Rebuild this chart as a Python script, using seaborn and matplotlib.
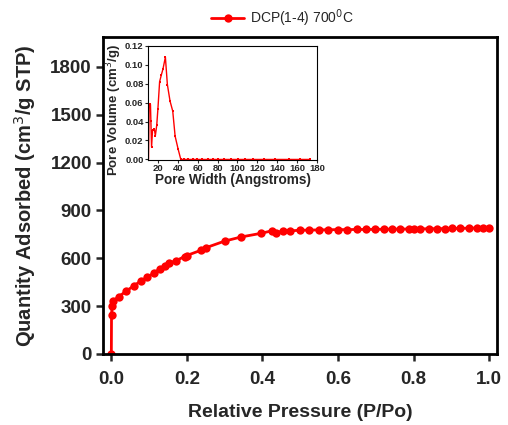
import numpy as np
import pandas as pd
import seaborn as sns
import matplotlib
matplotlib.use("Agg")
import matplotlib.pyplot as plt

sns.set_style("ticks")
plt.rcParams["font.family"] = ["Liberation Sans", "DejaVu Sans"]

# N2 adsorption isotherm
rel_pressure = [0.0, 0.0005, 0.002, 0.005, 0.019, 0.040, 0.059, 0.079, 0.094, 0.112,
                0.128, 0.141, 0.153, 0.172, 0.194, 0.199, 0.238, 0.250, 0.300, 0.344,
                0.397, 0.424, 0.437, 0.455, 0.472, 0.499, 0.524, 0.549, 0.573, 0.600,
                0.624, 0.651, 0.675, 0.699, 0.721, 0.743, 0.765, 0.787, 0.800, 0.818,
                0.840, 0.862, 0.884, 0.902, 0.924, 0.946, 0.968, 0.984, 1.0]
quantity = [0, 243, 302, 332, 359, 395, 427, 459, 480, 507,
            533, 550, 569, 586, 611, 617, 651, 666, 708, 734,
            757, 772, 761, 772, 772, 776, 777, 778, 779, 780,
            780, 781, 781, 782, 782, 783, 783, 784, 784, 785,
            785, 786, 786, 787, 788, 789, 790, 791, 793]

# Pore size distribution
pore_width = [10.5, 11.2, 12.5, 12.9, 13.6, 14.6, 16.4, 17.4, 18.8, 20.0,
              21.7, 23.4, 25.1, 27.5, 29.5, 32.2, 34.9, 37.3, 40.3, 43.0,
              46.3, 50.4, 55.1, 59.8, 64.6, 70.0, 75.4, 80.8, 86.2, 93.6,
              100.3, 107.8, 115.2, 126.7, 138.1, 152.3, 163.1, 173.2]
pore_volume = [0.0, 0.0588, 0.058, 0.041, 0.013, 0.031, 0.032, 0.025, 0.036, 0.0535,
               0.082, 0.089, 0.0955, 0.108, 0.079, 0.0615, 0.051, 0.0245, 0.011, 0.0,
               0, 0, 0, 0, 0, 0, 0, 0, 0, 0,
               0, 0, 0, 0, 0, 0, 0, 0]

iso = pd.DataFrame({"p": rel_pressure, "q": quantity})
psd = pd.DataFrame({"w": pore_width, "v": pore_volume})

fig = plt.figure(figsize=(5.08, 4.25), dpi=100)
ax = fig.add_axes([0.2028, 0.1671, 0.7756, 0.7459])

sns.lineplot(data=iso, x="p", y="q", ax=ax, color="#ff0000", marker="o",
             markersize=6, markeredgewidth=0, linewidth=2, estimator=None,
             sort=False, label="DCP(1-4) 700$^{0}$C")

ax.set_xlim(-0.022, 1.021)
ax.set_ylim(0, 1988)
ax.set_xticks([0.0, 0.2, 0.4, 0.6, 0.8, 1.0])
ax.set_yticks([0, 300, 600, 900, 1200, 1500, 1800])
ax.set_xticklabels(["0.0", "0.2", "0.4", "0.6", "0.8", "1.0"])
ax.tick_params(axis="both", length=5, width=1.8, labelsize=13.5, pad=3)
ax.tick_params(axis="x", pad=7)
for lbl in ax.get_xticklabels() + ax.get_yticklabels():
    lbl.set_fontweight("bold")
for sp in ax.spines.values():
    sp.set_linewidth(2)
    sp.set_color("black")
ax.set_xlabel("Relative Pressure (P/Po)", fontsize=14, fontweight="bold", labelpad=12)
ax.set_ylabel("Quantity Adsorbed (cm$^3$/g STP)", fontsize=14.5, fontweight="bold", labelpad=9)
ax.legend(loc="lower center", bbox_to_anchor=(0.455, 1.0), frameon=False,
          fontsize=10, handlelength=2.4, handletextpad=0.4, borderaxespad=0.2)

# Inset: pore size distribution
ins = fig.add_axes([0.2913, 0.6235, 0.3327, 0.269])
sns.lineplot(data=psd, x="w", y="v", ax=ins, color="#ff0000", marker="s",
             markersize=2, markeredgewidth=0, linewidth=1, estimator=None,
             sort=False, legend=False)
ins.set_xlim(10, 180)
ins.set_ylim(-0.0006, 0.12)
ins.set_xticks(range(20, 181, 20))
ins.set_yticks([0.0, 0.02, 0.04, 0.06, 0.08, 0.10, 0.12])
ins.set_yticklabels(["0.00", "0.02", "0.04", "0.06", "0.08", "0.10", "0.12"])
ins.tick_params(axis="both", length=2, width=0.8, labelsize=6.8, pad=1.2)
for lbl in ins.get_xticklabels() + ins.get_yticklabels():
    lbl.set_fontweight("bold")
for sp in ins.spines.values():
    sp.set_linewidth(0.8)
    sp.set_color("black")
ins.set_xlabel("Pore Width (Angstroms)", fontsize=9.8, fontweight="bold", labelpad=0)
ins.set_ylabel("Pore Volume (cm$^3$/g)", fontsize=9.5, fontweight="bold")
ins.yaxis.set_label_coords(-0.14, 0.437)

fig.savefig("out.png", dpi=100)
